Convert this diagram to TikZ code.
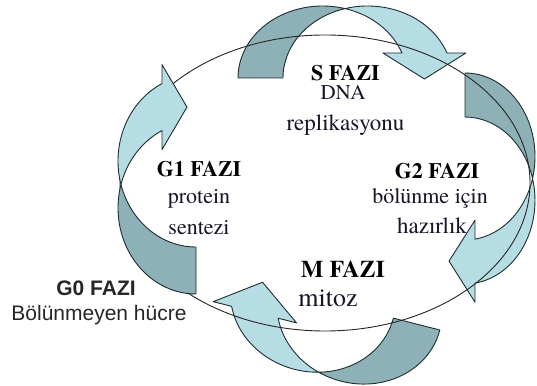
\documentclass[tikz,border=0pt]{standalone}
\usepackage{fontspec}
\setmainfont{Liberation Serif}
\newfontfamily\timesf{texgyretermes}[Extension=.otf, UprightFont=*-regular, BoldFont=*-bold]
\newfontfamily\arialf{Liberation Sans}
\definecolor{arrlightc}{RGB}{182,221,228}
\definecolor{arrdarkc}{RGB}{141,177,182}
\definecolor{edgec}{RGB}{30,45,48}
\definecolor{txtc}{RGB}{25,20,40}
\tikzset{
  bandlight/.style={fill=arrlightc, draw=edgec, line width=0.9pt, line join=round},
  banddark/.style={fill=arrdarkc, draw=edgec, line width=0.9pt, line join=round},
  cycleline/.style={draw=black!85, line width=0.9pt},
  phase/.style={font=\timesf\fontsize{#1}{#1}\selectfont\bfseries, text=black, inner sep=0pt},
  desc/.style={font=\timesf\fontsize{#1}{#1}\selectfont, text=txtc, inner sep=0pt},
  sphase/.style={font=\arialf\fontsize{#1}{#1}\selectfont\bfseries, text=black!85, inner sep=0pt},
  sdesc/.style={font=\arialf\fontsize{#1}{#1}\selectfont, text=black!85, inner sep=0pt}
}
% #1 x, #2 y (screen px), #3 rotation, #4 rx, #5 ry, #6 band, #7 shaft end height, #8 head length
\newcommand\curvarr[8]{%
  \begin{scope}[shift={(#1,385-#2)},rotate=#3]
    \pgfmathsetmacro\crx{#4}
    \pgfmathsetmacro\cry{#5}
    \pgfmathsetmacro\cth{#6}
    \pgfmathsetmacro\ch{#7}
    \pgfmathsetmacro\cL{#8}
    \pgfmathsetmacro\ce{19}
    \pgfmathsetmacro\tA{acos(\cth/2/\crx)}
    \pgfmathsetmacro\tB{180-\tA}
    \pgfmathsetmacro\te{asin(\ch/\cry)}
    \pgfmathsetmacro\xa{\crx*cos(\te)}
    \pgfmathsetmacro\xb{\cth+\crx*cos(\te)}
    \pgfmathsetmacro\ya{\cry*sin(\tA)}
    \path[banddark] (-\crx,0) arc[start angle=180,end angle=\tA,x radius=\crx,y radius=\cry]
      arc[start angle=\tB,end angle=180,x radius=\crx,y radius=\cry] -- cycle;
    \path[bandlight] (\cth/2,\ya) arc[start angle=\tB,end angle=\te,x radius=\crx,y radius=\cry]
      -- (\xb+\ce,\ch) -- ({(\xa+\xb)/2},\ch-\cL) -- (\xa-\ce,\ch) -- (\xa,\ch)
      arc[start angle=\te,end angle=\tA,x radius=\crx,y radius=\cry] -- cycle;
  \end{scope}}
\begin{document}
\begin{tikzpicture}[x=1pt,y=1pt]
  \useasboundingbox (0,0) rectangle (537,385);
  \fill[white] (0,0) rectangle (537,385);
  % arrows under the cycle line
  \curvarr{322.6}{78}{0}{84.6}{72}{45}{25}{26}
  \curvarr{465}{156.5}{-90}{83.5}{70}{44}{10}{26}
  \curvarr{359.4}{309.5}{165.7}{83}{74}{48}{28.5}{31}
  % cycle line
  \draw[cycleline] (325,202) ellipse [x radius=205, y radius=148];
  % left arrow over the line
  \curvarr{196}{208}{90}{86}{78}{47}{34}{25}
  % texts
  \node[phase=22] (sf) at (345.5,312) {S FAZI};
  \node[desc=21] (sd1) at (343,292) {DNA};
  \node[desc=23] (sd2) at (345.5,260) {replikasyonu};
  \node[phase=22] (g1f) at (199,216) {G1 FAZI};
  \node[desc=22] (g1d1) at (199,186) {protein};
  \node[desc=22] (g1d2) at (199,157) {sentezi};
  \node[phase=22] (g2f) at (437,214) {G2 FAZI};
  \node[desc=22] (g2d1) at (430,187) {bölünme için};
  \node[desc=23] (g2d2) at (432,159) {hazırlık};
  \node[phase=24] (mf) at (343,116) {M FAZI};
  \node[desc=26] (md) at (328,87) {mitoz};
  \node[sphase=21] (g0f) at (96,97) {G0 FAZI};
  \node[sdesc=21] (g0d) at (99,70) {Bölünmeyen hücre};
\end{tikzpicture}
\end{document}
